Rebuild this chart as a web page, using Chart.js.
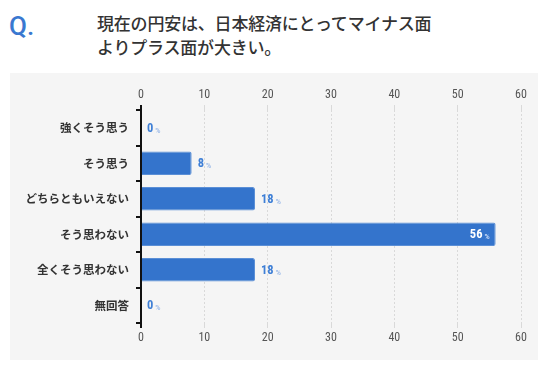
<!DOCTYPE html>
<html>
<head>
<meta charset="utf-8">
<script src="https://cdn.jsdelivr.net/npm/chart.js@4"></script>
<style>
  html, body { margin: 0; padding: 0; background: #ffffff; }
  body { width: 546px; height: 374px; position: relative; overflow: hidden; }
  #q { position: absolute; left: 9px; top: 9px; font-family: Roboto, "Noto Sans", sans-serif; font-weight: 500; font-size: 26px; line-height: 34px; color: #3a78d0; }
  #title { position: absolute; left: 97px; top: 11px; font-family: "Noto Sans CJK JP", sans-serif; font-weight: 500; font-size: 17px; line-height: 24px; color: #333333; letter-spacing: -0.2px; white-space: nowrap; }
  #panel { position: absolute; left: 10px; top: 73px; width: 528px; height: 287px; background: #f5f5f5; }
  #panel canvas { position: absolute; left: 0; top: 0; }
</style>
</head>
<body>
<div id="q">Q.</div>
<div id="title">現在の円安は、日本経済にとってマイナス面<br>よりプラス面が大きい。</div>
<div id="panel"><canvas id="c" width="528" height="287"></canvas></div>
<script>
const categories = ["強くそう思う", "そう思う", "どちらともいえない", "そう思わない", "全くそう思わない", "無回答"];
const values = [0, 8, 18, 56, 18, 0];
const xTicks = [0, 10, 20, 30, 40, 50, 60];

const tickFont = { family: "'Liberation Sans Narrow', 'Roboto Condensed', Roboto, sans-serif", size: 12 };

const valueLabels = {
  id: 'valueLabels',
  afterDatasetsDraw(chart) {
    const ctx = chart.ctx;
    const meta = chart.getDatasetMeta(0);
    meta.data.forEach((bar, i) => {
      const v = values[i];
      const numStr = String(v);
      ctx.save();
      ctx.textBaseline = 'middle';
      const numFont = "bold 12.5px 'Liberation Sans Narrow', 'Roboto Condensed', Roboto, sans-serif";
      const pctFont = "bold 7px Roboto, sans-serif";
      ctx.font = numFont;
      const nw = ctx.measureText(numStr).width;
      ctx.font = pctFont;
      const pw = ctx.measureText('%').width;
      const inside = v > 40;
      let x;
      if (inside) {
        x = bar.x - 6 - pw - 2 - nw;
      } else {
        x = bar.x + 6;
      }
      ctx.font = numFont;
      ctx.textAlign = 'left';
      ctx.fillStyle = inside ? '#ffffff' : '#3e7fd6';
      ctx.fillText(numStr, x, bar.y + 1);
      ctx.font = pctFont;
      ctx.fillStyle = inside ? '#c9dbf5' : '#9dbbe8';
      ctx.fillText('%', x + nw + 2, bar.y + 3);
      ctx.restore();
    });
  }
};

new Chart(document.getElementById('c'), {
  type: 'bar',
  data: {
    labels: categories,
    datasets: [{
      data: values,
      backgroundColor: '#3474cc',
      borderColor: '#5b8fd6',
      borderWidth: 1,
      borderRadius: 2,
      borderSkipped: 'start',
      categoryPercentage: 1,
      barPercentage: 0.66
    }]
  },
  options: {
    indexAxis: 'y',
    responsive: false,
    animation: false,
    events: [],
    layout: { padding: { left: 0, right: 17, top: 0, bottom: 0 } },
    plugins: { legend: { display: false }, tooltip: { enabled: false } },
    scales: {
      x: {
        position: 'bottom',
        min: 0, max: 60,
        afterFit(s) { s.height = 37; },
        afterBuildTicks(s) { s.ticks = xTicks.map(v => ({ value: v })); },
        ticks: { color: '#555555', font: tickFont, padding: 3, maxRotation: 0 },
        grid: {
          color: (c) => (c.tick && c.tick.value === 0) ? '#111111' : '#d9d9d9',
          lineWidth: (c) => (c.tick && c.tick.value === 0) ? 2 : 1,
          tickColor: (c) => (c.tick && c.tick.value === 0) ? '#111111' : '#d9d9d9',
          tickLength: 5,
          drawTicks: true
        },
        border: { display: false, dash: (c) => (c.tick && c.tick.value === 0) ? [] : [2, 2] }
      },
      x2: {
        axis: 'x',
        position: 'top',
        min: 0, max: 60,
        afterFit(s) { s.height = 37; },
        afterBuildTicks(s) { s.ticks = xTicks.map(v => ({ value: v })); },
        ticks: { color: '#555555', font: tickFont, padding: 3, maxRotation: 0 },
        grid: {
          drawOnChartArea: false,
          color: (c) => (c.tick && c.tick.value === 0) ? '#111111' : '#d9d9d9',
          lineWidth: (c) => (c.tick && c.tick.value === 0) ? 2 : 1,
          tickLength: 5,
          drawTicks: true
        },
        border: { display: false, dash: (c) => (c.tick && c.tick.value === 0) ? [] : [2, 2] }
      },
      y: {
        afterFit(s) { s.width = 131; },
        ticks: {
          color: '#333333',
          font: { family: "'Noto Sans CJK JP', sans-serif", size: 11.5, weight: 'bold' },
          padding: 7
        },
        grid: {
          drawOnChartArea: false,
          drawTicks: true,
          tickLength: 5,
          color: '#111111',
          lineWidth: 2
        },
        border: { display: true, color: '#111111', width: 2 }
      }
    }
  },
  plugins: [valueLabels]
});
</script>
</body>
</html>
